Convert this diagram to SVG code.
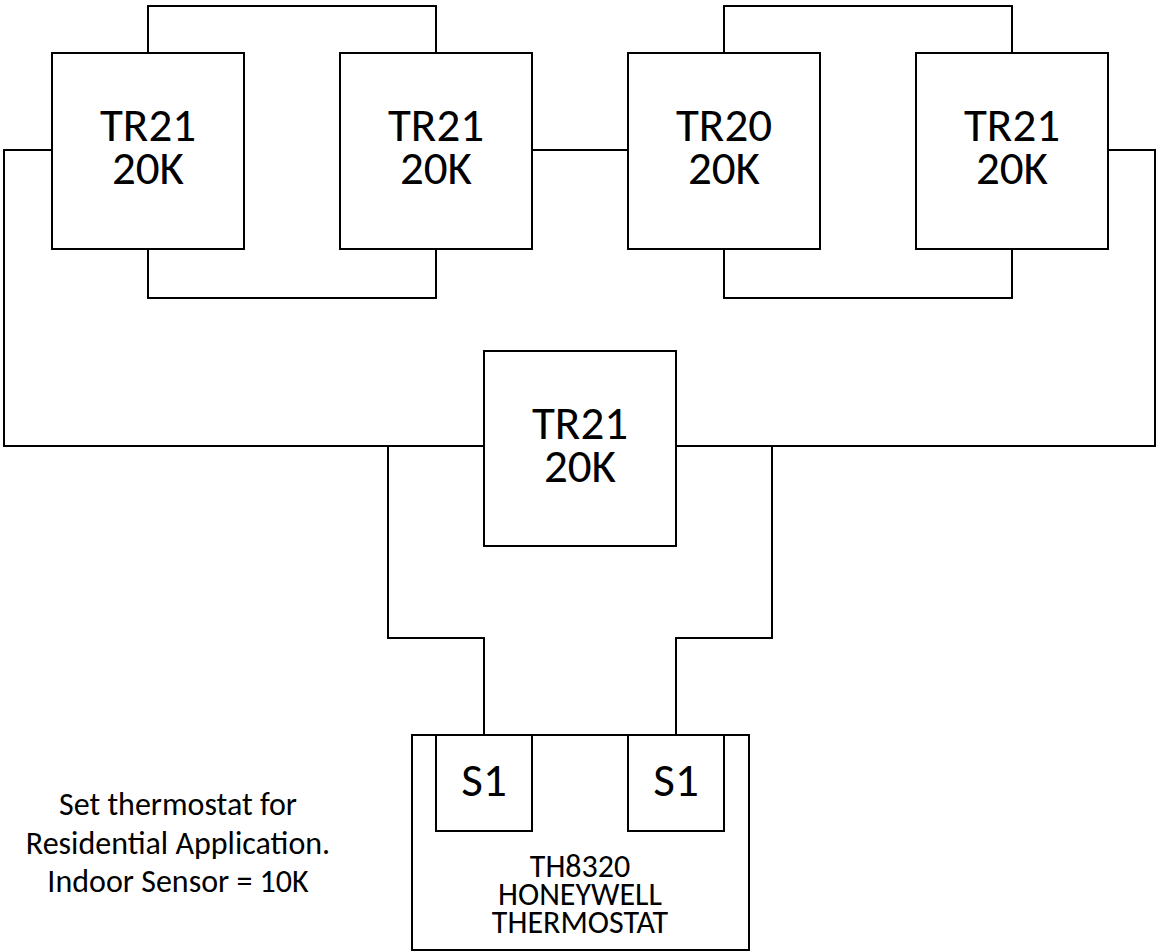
<svg xmlns="http://www.w3.org/2000/svg" width="1156" height="951" viewBox="0 0 1156 951">
<style>
rect,path{fill:none;stroke:#000;stroke-width:2}
text{font-family:"Carlito","Open Sans","Liberation Sans",sans-serif;fill:#000;text-anchor:middle}
.b{font-size:47px}
.s{font-size:32px}
</style>
<rect width="1156" height="951" style="fill:#fff;stroke:none"/>
<g id="connectors">
<path d="M148 53V6H436V53"/>
<path d="M148 249V298H436V249"/>
<path d="M724 53V6H1012V53"/>
<path d="M724 249V298H1012V249"/>
<path d="M532 150H628"/>
<path d="M52 150H4V446H484"/>
<path d="M1108 150H1155V446H676"/>
<path d="M388 446V638H484V735"/>
<path d="M772 446V638H676V735"/>
</g>
<g id="n1"><rect x="52" y="53" width="192" height="196"/><text class="b" x="148" y="141">TR21</text><text class="b" x="148" y="184">20K</text></g>
<g id="n2"><rect x="340" y="53" width="192" height="196"/><text class="b" x="436" y="141">TR21</text><text class="b" x="436" y="184">20K</text></g>
<g id="n3"><rect x="628" y="53" width="192" height="196"/><text class="b" x="724" y="141">TR20</text><text class="b" x="724" y="184">20K</text></g>
<g id="n4"><rect x="916" y="53" width="192" height="196"/><text class="b" x="1012" y="141">TR21</text><text class="b" x="1012" y="184">20K</text></g>
<g id="n5"><rect x="484" y="351" width="192" height="195"/><text class="b" x="580" y="439">TR21</text><text class="b" x="580" y="482">20K</text></g>
<g id="thermostat"><rect x="412" y="735" width="337" height="215"/><rect x="436" y="735" width="96" height="96"/><rect x="628" y="735" width="96" height="96"/>
<text class="b" x="484" y="796">S1</text><text class="b" x="676" y="796">S1</text>
<text class="s" x="580" y="877">TH8320</text><text class="s" x="580" y="905">HONEYWELL</text><text class="s" x="580" y="933">THERMOSTAT</text></g>
<g id="note"><text class="s" x="178" y="815">Set thermostat for</text><text class="s" x="178" y="854">Residential Application.</text><text class="s" x="178" y="892">Indoor Sensor = 10K</text></g>
</svg>
